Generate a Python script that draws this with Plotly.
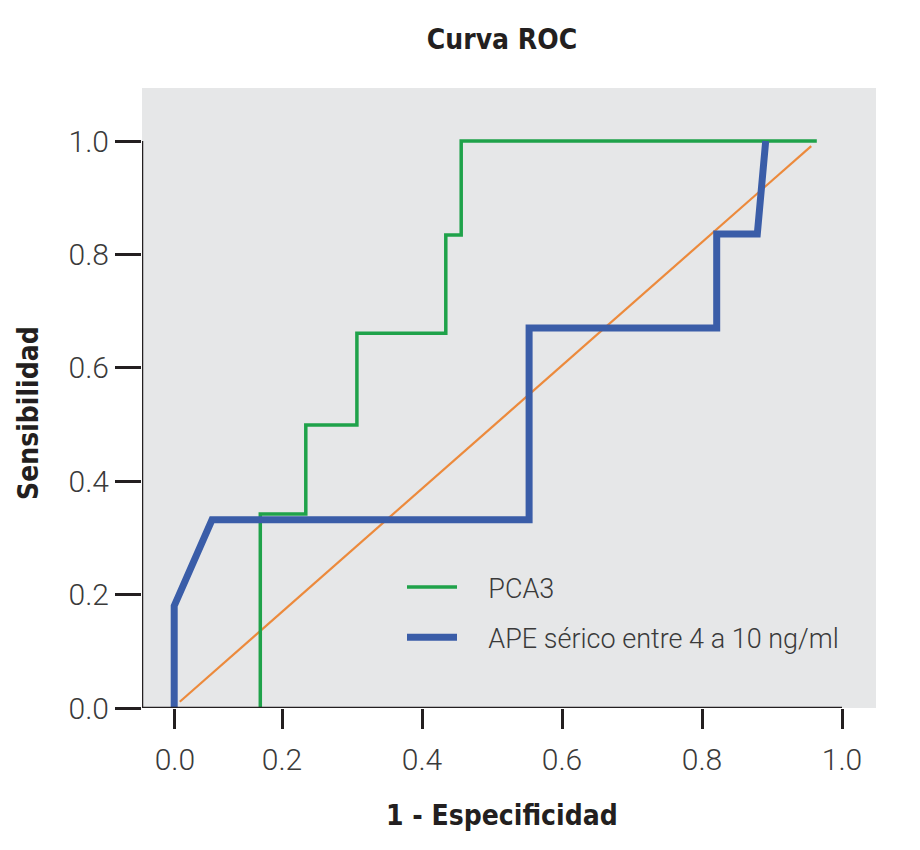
import plotly.graph_objects as go

# ROC curve points (1 - especificidad, sensibilidad)
pca3_fpr = [0.169, 0.169, 0.234, 0.234, 0.307, 0.307, 0.434, 0.434, 0.456, 0.456, 0.964]
pca3_tpr = [0.0, 0.342, 0.342, 0.499, 0.499, 0.661, 0.661, 0.834, 0.834, 1.0, 1.0]

ape_fpr = [0.046, 0.046, 0.100, 0.553, 0.553, 0.821, 0.821, 0.879, 0.891]
ape_tpr = [0.0, 0.180, 0.332, 0.332, 0.670, 0.670, 0.836, 0.836, 1.0]

ref_fpr = [0.054, 0.956]
ref_tpr = [0.011, 0.991]

x_tickvals = [0.047, 0.2, 0.4, 0.6, 0.8, 1.0]
x_ticktext = ["0.0", "0.2", "0.4", "0.6", "0.8", "1.0"]
y_tickvals = [0.0, 0.2, 0.4, 0.6, 0.8, 1.0]
y_ticktext = ["0.0", "0.2", "0.4", "0.6", "0.8", "1.0"]

LIGHT = "Roboto, Liberation Sans, sans-serif"
BOLD = "DejaVu Sans Condensed, Liberation Sans, sans-serif"
AXIS_COLOR = "#231f20"
NB = "\u00a0"

fig = go.Figure()
fig.add_trace(go.Scatter(
    x=ref_fpr, y=ref_tpr, mode="lines", showlegend=False,
    line=dict(color="#ec8a3c", width=2.2),
))
fig.add_trace(go.Scatter(
    x=pca3_fpr, y=pca3_tpr, mode="lines", name=NB * 4 + "PCA3", legendgroup="a",
    line=dict(color="#1fa24a", width=3.5),
))
fig.add_trace(go.Scatter(
    x=ape_fpr, y=ape_tpr, mode="lines", name=NB * 4 + "APE sérico entre 4 a 10 ng/ml",
    legendgroup="b", line=dict(color="#3a5da8", width=7),
))

# axis lines only span 0..1 like the original
fig.add_shape(type="line", xref="x", yref="y", x0=0, x1=1.0, y0=0, y1=0,
              line=dict(color=AXIS_COLOR, width=2.5))
fig.add_shape(type="line", xref="x", yref="y", x0=0, x1=0, y0=0, y1=1.0,
              line=dict(color=AXIS_COLOR, width=2.5))

fig.add_annotation(text="<b>1 - Especificidad</b>", xref="paper", yref="paper",
                   x=(502 - 142) / 734, y=-(815 - 708) / 620, showarrow=False,
                   xanchor="center", yanchor="middle",
                   font=dict(family=BOLD, size=28, color=AXIS_COLOR))
fig.add_annotation(text="<b>Sensibilidad</b>", xref="paper", yref="paper",
                   x=-(142 - 28) / 734, y=(708 - 413) / 620, showarrow=False,
                   textangle=-90, xanchor="center", yanchor="middle",
                   font=dict(family=BOLD, size=28, color=AXIS_COLOR))

# page body adds an 8px offset, so margins are shifted by 8
fig.update_layout(
    width=920, height=850,
    margin=dict(l=134, r=52, t=80, b=150),
    paper_bgcolor="white",
    plot_bgcolor="#e6e7e8",
    font=dict(family=LIGHT, size=30, color="#3a3a3a", weight=300),
    title=dict(text="<b>Curva ROC</b>", x=494 / 920, xref="container", xanchor="center",
               y=1 - 31 / 850, yref="container", yanchor="middle",
               font=dict(family=BOLD, size=28, color=AXIS_COLOR)),
    showlegend=True,
    legend=dict(
        x=(402 - 142) / 734, y=(708 - 563) / 620, xanchor="left", yanchor="top",
        bgcolor="rgba(0,0,0,0)", tracegroupgap=12,
        font=dict(family=LIGHT, size=27, color="#3a3a3a", weight=300),
        itemwidth=50,
    ),
)
fig.update_xaxes(
    range=[0, 734 / 700], showgrid=False, zeroline=False, showline=False,
    tickmode="array", tickvals=x_tickvals, ticktext=x_ticktext,
    ticks="outside", ticklen=20, tickwidth=2.5, tickcolor=AXIS_COLOR,
    ticklabelstandoff=5, fixedrange=True,
)
fig.update_yaxes(
    range=[0, 620 / 567], showgrid=False, zeroline=False, showline=False,
    tickmode="array", tickvals=y_tickvals, ticktext=y_ticktext,
    ticks="outside", ticklen=26, tickwidth=2.5, tickcolor=AXIS_COLOR,
    fixedrange=True,
)

fig.write_html("out.html")
